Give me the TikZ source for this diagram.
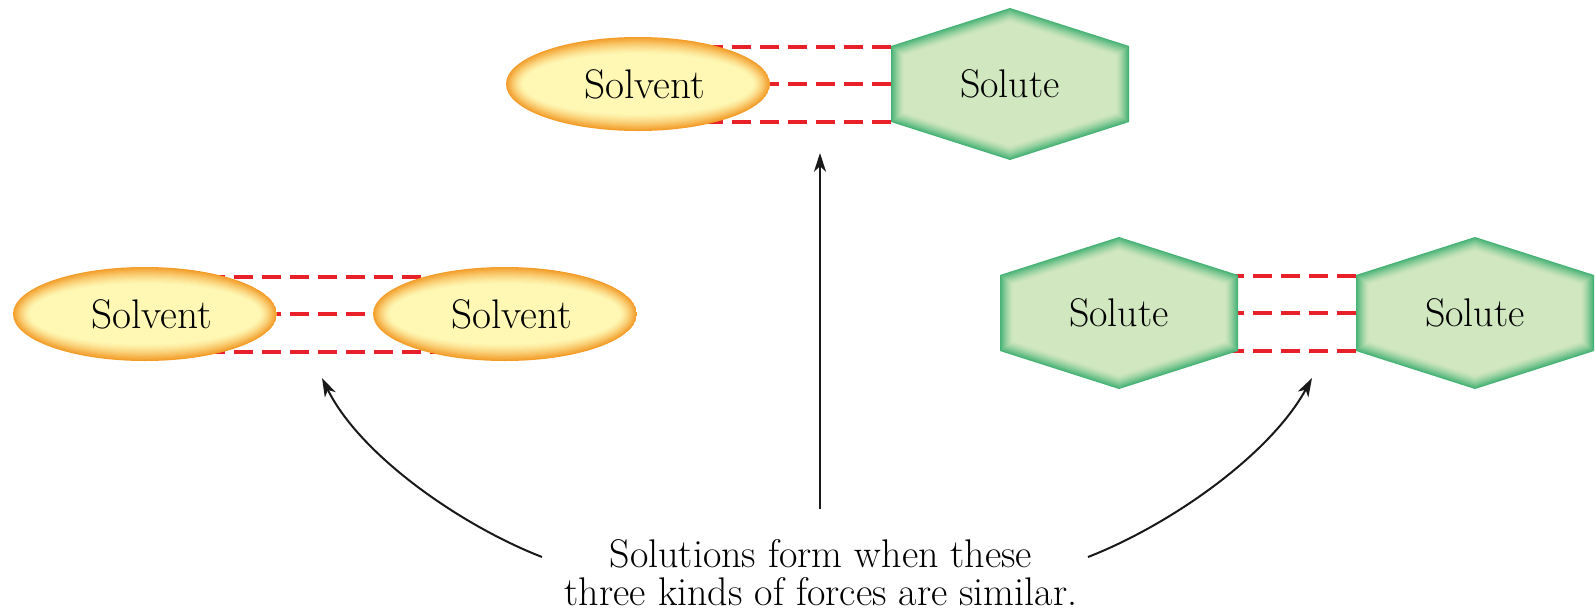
\documentclass[tikz,border=0pt]{standalone}
\usetikzlibrary{shapes.geometric,arrows.meta,calc}
\definecolor{solvE}{HTML}{F39C28}
\definecolor{solvI}{HTML}{FFF8B4}
\definecolor{soluE}{HTML}{45B275}
\definecolor{soluI}{HTML}{D0E7C0}
\definecolor{bondred}{HTML}{E8202A}
\pgfdeclarelayer{bg}
\pgfsetlayers{bg,main}
\tikzset{
  solvnode/.style={ellipse, minimum width=198pt, minimum height=70.5pt, inner sep=0pt,
    font=\fontsize{31}{33}\selectfont, execute at begin node={\hspace*{10pt}},
    path picture={
      \foreach \i in {0,...,16}{
        \pgfmathsetmacro\p{100*(1-\i/16)^1.4}
        \pgfmathsetmacro\rx{99-\i*0.8}
        \pgfmathsetmacro\ry{35.25-\i*0.8}
        \fill[solvE!\p!solvI] (path picture bounding box.center) ellipse [x radius=\rx pt, y radius=\ry pt];
      }}},
  solunode/.style={rectangle, minimum width=178.5pt, minimum height=114pt, inner sep=0pt,
    font=\fontsize{30}{32}\selectfont,
    path picture={
      \foreach \i in {0,...,13}{
        \pgfmathsetmacro\p{100*(1-\i/13)^1.4}
        \pgfmathsetmacro\W{89.25-\i*0.75}
        \pgfmathsetmacro\H{57-\i*0.79}
        \pgfmathsetmacro\S{28.5-\i*0.55}
        \fill[soluE!\p!soluI] (path picture bounding box.center)
          +(0pt,\H pt) -- +(\W pt,\S pt) -- +(\W pt,-\S pt) -- +(0pt,-\H pt) -- +(-\W pt,-\S pt) -- +(-\W pt,\S pt) -- cycle;
      }}},
  bond/.style={draw=bondred, line width=3pt, dash pattern=on 14pt off 7pt},
  arr/.style={draw=black!90, line width=1.5pt, -{Stealth[length=14pt, width=9pt, inset=4pt]}},
}
\begin{document}
\begin{tikzpicture}[x=0.75pt,y=-0.75pt]
\useasboundingbox (0,0) rectangle (1595,611);
% top pair
\node[solvnode] (tsv) at (638,84) {Solvent};
\node[solunode] (tsu) at (1010,84) {Solute};
% left pair
\node[solvnode] (lsv1) at (145,314) {Solvent};
\node[solvnode] (lsv2) at (505,314) {Solvent};
% right pair
\node[solunode] (rsu1) at (1119,313) {Solute};
\node[solunode] (rsu2) at (1475,313) {Solute};
% text
\node[font=\fontsize{30}{28.5}\selectfont, align=center] (txt) at (821,573)
  {Solutions form when these\\three kinds of forces are similar.};
% bonds
\begin{pgfonlayer}{bg}
\foreach \dy in {-37,0,38}{
  \draw[bond] ($(tsu.west)+(0,\dy)$) -- ($(tsv.center)+(0,\dy)$);
  \draw[bond] ($(lsv2.center)+(0,\dy)$) -- ($(lsv1.center)+(0,\dy)$);
  \draw[bond] ($(rsu2.west)+(0,\dy)$) -- ($(rsu1.center)+(0,\dy)$);
}
\end{pgfonlayer}
% arrows
\coordinate (vtail) at (820,509);
\coordinate (vtip) at (820,153);
\coordinate (ltail) at (542,557);
\coordinate (ltip) at (322,378);
\coordinate (rtail) at (1088,557);
\coordinate (rtip) at (1312,378);
\draw[arr] (vtail) -- (vtip);
\draw[arr] (ltail) .. controls (460,525) and (360,455) .. (ltip);
\draw[arr] (rtail) .. controls (1170,525) and (1270,455) .. (rtip);
\end{tikzpicture}
\end{document}
